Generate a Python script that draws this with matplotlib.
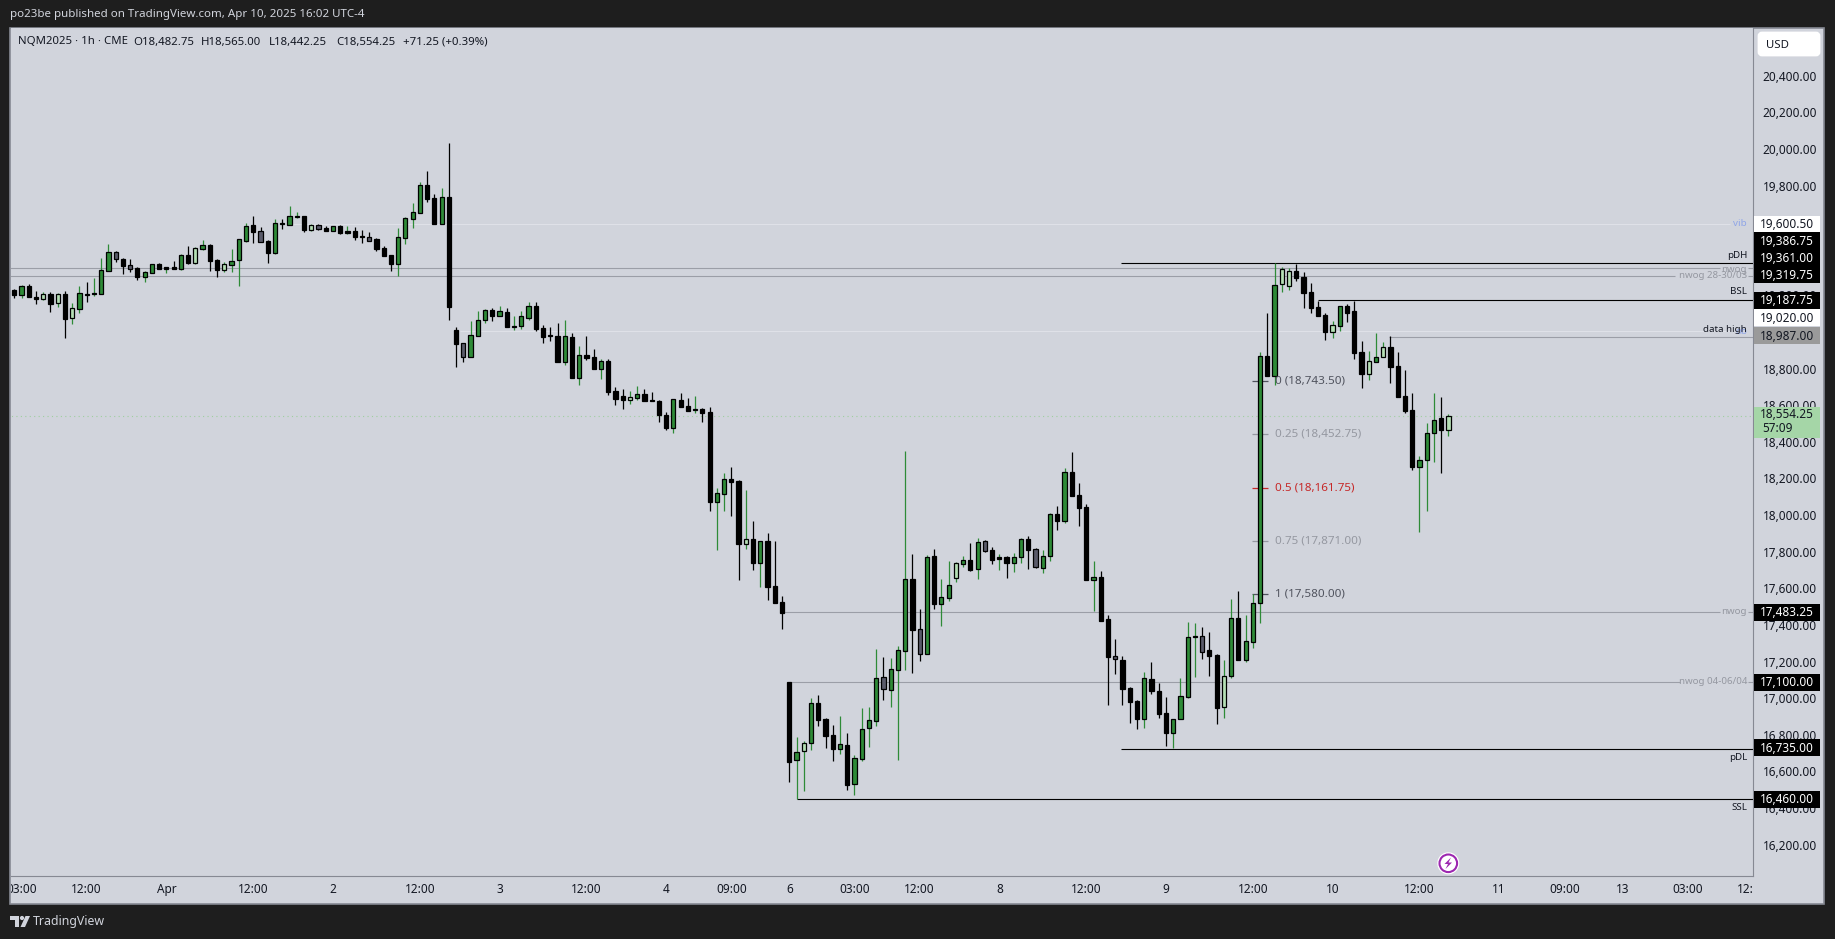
import matplotlib
matplotlib.use('Agg')
import matplotlib.pyplot as plt
from matplotlib.patches import Rectangle, Circle, Polygon, FancyBboxPatch
from matplotlib.transforms import ScaledTranslation

plt.rcParams['font.family'] = ['Noto Sans', 'DejaVu Sans']

# k black, g green, l light green, d grey, m black body with green wick
kinds = list(
    "kgkklklklg" "kmggdkdkgg" "kmkgklgkkl" "gggkdkgkgm" "kldkgkmkkd"
    "kkkggggkkg" "kkdgggkgkm" "ggkkkkgkgk" "kgkkklgkkk" "kgkkmkkggk"
    "klkgkkkkgl" "gkkkgkgggg" "dgggkdgkgg" "lgkgdkmkgg" "kdggkgkkkg"
    "kkdkkkgkkk" "gggmdkklgk" "gggkgllkkk" "kklgkkklgl" "kkkkgggkl"
)

highs = [
    19246, 19270, 19275, 19235, 19230, 19230, 19226, 19235, 19171, 19264,
    19284, 19308, 19417, 19493, 19455, 19417, 19412, 19366, 19344, 19382,
    19388, 19368, 19401, 19437, 19483, 19477, 19515, 19492, 19412, 19395,
    19466, 19519, 19608, 19646, 19586, 19515, 19630, 19630, 19701, 19668,
    19646, 19603, 19603, 19592, 19590, 19597, 19592, 19586, 19570, 19559,
    19526, 19481, 19433, 19581, 19639, 19716, 19832, 19892, 19765, 19799,
    20045, 19040, 18951, 19073, 19127, 19137, 19142, 19155, 19142, 19100,
    19126, 19177, 19177, 19049, 19040, 19062, 19078, 19007, 18936, 18991,
    18920, 18865, 18865, 18712, 18701, 18690, 18718, 18701, 18685, 18639,
    18576, 18645, 18679, 18652, 18663, 18598, 18603, 18159, 18243, 18275,
    18204, 18150, 17980, 17869, 17915, 17871, 17571, 17099, 16799, 16779,
    17014, 17028, 16902, 16866, 16915, 16821, 16700, 16957, 16963, 17279,
    17236, 17230, 17298, 18363, 17798, 17498, 17793, 17826, 17662, 17760,
    17756, 17787, 17858, 17886, 17875, 17836, 17798, 17787, 17805, 17886,
    17897, 17831, 17820, 18022, 18062, 18270, 18357, 18188, 18073, 17762,
    17707, 17465, 17336, 17243, 17074, 17003, 17156, 17210, 17095, 17019,
    16897, 17123, 17429, 17423, 17401, 17374, 17254, 17221, 17554, 17598,
    17467, 17580, 18902, 19115, 19388, 19368, 19361, 19384, 19339, 19280,
    19184, 19117, 19073, 19155, 19164, 19184, 18964, 18909, 19007, 18958,
    18991, 18904, 18805, 18678, 18335, 18516, 18678, 18658, 18565,
]
body_tops = [
    19240, 19262, 19264, 19202, 19219, 19220, 19219, 19220, 19142, 19224,
    19220, 19224, 19350, 19448, 19448, 19410, 19377, 19361, 19339, 19382,
    19382, 19368, 19366, 19432, 19432, 19470, 19486, 19486, 19404, 19382,
    19399, 19519, 19590, 19595, 19563, 19508, 19606, 19606, 19645, 19645,
    19645, 19595, 19595, 19581, 19590, 19592, 19563, 19565, 19537, 19530,
    19521, 19472, 19433, 19530, 19634, 19666, 19814, 19814, 19743, 19748,
    19748, 19022, 18951, 18995, 19076, 19131, 19131, 19126, 19120, 19044,
    19098, 19153, 19153, 19033, 18995, 18989, 18989, 18984, 18885, 18885,
    18874, 18852, 18852, 18689, 18661, 18656, 18672, 18672, 18641, 18634,
    18559, 18645, 18639, 18607, 18592, 18590, 18574, 18131, 18208, 18208,
    18197, 17880, 17880, 17869, 17869, 17624, 17536, 17099, 16720, 16770,
    16984, 16984, 16897, 16810, 16760, 16755, 16684, 16842, 16892, 17121,
    17126, 17170, 17274, 17662, 17662, 17389, 17782, 17787, 17563, 17629,
    17749, 17765, 17765, 17867, 17869, 17820, 17784, 17782, 17785, 17880,
    17880, 17826, 17787, 18017, 18017, 18246, 18246, 18120, 18055, 17673,
    17673, 17443, 17241, 17219, 17066, 16997, 17121, 17116, 17050, 16930,
    16897, 17023, 17345, 17350, 17350, 17274, 17247, 17132, 17449, 17449,
    17323, 17531, 18880, 18880, 19268, 19355, 19344, 19344, 19311, 19230,
    19148, 19104, 19049, 19153, 19153, 19126, 18902, 18853, 18874, 18929,
    18929, 18825, 18661, 18585, 18312, 18459, 18534, 18541, 18556,
]
body_bottoms = [
    19215, 19217, 19206, 19195, 19195, 19168, 19173, 19086, 19091, 19140,
    19217, 19222, 19222, 19348, 19413, 19375, 19359, 19315, 19315, 19337,
    19359, 19359, 19359, 19359, 19390, 19391, 19468, 19402, 19353, 19353,
    19381, 19408, 19512, 19561, 19506, 19446, 19446, 19605, 19599, 19641,
    19572, 19572, 19577, 19565, 19566, 19555, 19554, 19532, 19534, 19512,
    19466, 19428, 19384, 19386, 19528, 19632, 19665, 19741, 19605, 19605,
    19151, 18949, 18878, 18878, 18993, 19080, 19102, 19102, 19042, 19040,
    19047, 19091, 19031, 18987, 18993, 18851, 18851, 18763, 18763, 18873,
    18812, 18812, 18687, 18649, 18643, 18643, 18654, 18638, 18638, 18561,
    18486, 18486, 18605, 18583, 18588, 18572, 18086, 18086, 18126, 18195,
    17857, 17853, 17753, 17753, 17622, 17534, 17480, 16666, 16673, 16722,
    16766, 16895, 16808, 16737, 16737, 16540, 16542, 16682, 16848, 16890,
    17064, 17059, 17168, 17272, 17387, 17252, 17252, 17529, 17529, 17558,
    17667, 17747, 17714, 17716, 17818, 17769, 17775, 17753, 17749, 17782,
    17824, 17727, 17725, 17787, 17982, 17982, 18119, 18053, 17660, 17660,
    17436, 17239, 17228, 17064, 16994, 16901, 16897, 17054, 16928, 16824,
    16821, 16897, 17021, 17345, 17267, 17245, 16957, 16963, 17132, 17223,
    17223, 17321, 17531, 18774, 18774, 19273, 19266, 19310, 19228, 19146,
    19102, 19015, 19015, 19047, 19118, 18900, 18785, 18785, 18851, 18874,
    18823, 18660, 18581, 18275, 18277, 18312, 18459, 18479, 18479,
]
lows = [
    19200, 19200, 19206, 19168, 19188, 19124, 19151, 18982, 19057, 19118,
    19178, 19211, 19222, 19348, 19397, 19331, 19342, 19299, 19288, 19337,
    19359, 19335, 19359, 19353, 19384, 19384, 19461, 19348, 19315, 19340,
    19340, 19266, 19504, 19499, 19506, 19390, 19439, 19575, 19599, 19634,
    19559, 19565, 19570, 19565, 19566, 19548, 19548, 19515, 19499, 19512,
    19455, 19428, 19346, 19319, 19493, 19581, 19665, 19723, 19605, 19605,
    19078, 18822, 18849, 18878, 18993, 19062, 19073, 19102, 19042, 19024,
    19029, 19078, 19018, 18955, 18964, 18851, 18832, 18763, 18723, 18860,
    18812, 18756, 18669, 18614, 18592, 18619, 18641, 18638, 18638, 18521,
    18477, 18461, 18605, 18583, 18570, 18521, 18035, 17822, 18035, 18008,
    17658, 17827, 17713, 17620, 17549, 17534, 17390, 16557, 16460, 16507,
    16730, 16861, 16742, 16669, 16708, 16511, 16484, 16671, 16746, 16861,
    17003, 16964, 16675, 17166, 17150, 17216, 17252, 17500, 17407, 17543,
    17647, 17729, 17707, 17663, 17811, 17745, 17713, 17669, 17702, 17751,
    17718, 17722, 17696, 17762, 17931, 17969, 18119, 17953, 17660, 17489,
    17436, 16975, 17145, 16975, 16877, 16844, 16850, 17035, 16904, 16751,
    16739, 16897, 17014, 17128, 17227, 17134, 16871, 16904, 17123, 17223,
    17210, 17287, 17423, 18774, 18723, 19233, 19242, 19291, 19146, 19118,
    19102, 18971, 18982, 19020, 19067, 18867, 18709, 18752, 18851, 18874,
    18736, 18660, 18570, 18259, 17920, 18035, 18303, 18244, 18445,
]

price_ticks = list(range(16200, 20600, 200))

time_bars = [1, 10, 21, 33, 44, 56, 67, 79, 90, 99, 107, 116, 125, 136, 148,
             159, 171, 182, 194, 205, 214, 222, 231, 240]
time_labels = ['03:00', '12:00', 'Apr', '12:00', '2', '12:00', '3', '12:00',
               '4', '09:00', '6', '03:00', '12:00', '8', '12:00', '9', '12:00',
               '10', '12:00', '11', '09:00', '13', '03:00', '12:00']

fib_prices = [18743.5, 18452.75, 18161.75, 17871.0, 17580.0]
fib_labels = ['0 (18,743.50)', '0.25 (18,452.75)', '0.5 (18,161.75)',
              '0.75 (17,871.00)', '1 (17,580.00)']
fib_colors = ['#50535e', '#9598a1', '#c62828', '#9598a1', '#50535e']

BG = '#1e1e1e'
PANEL = '#d1d4dc'
EDGE = '#868993'
GREEN = '#2e8b37'
LINE = '#9b9ea7'
FAINT = '#dfe1e8'
body_colors = {'k': 'black', 'm': 'black', 'g': GREEN, 'l': '#b5e0b5', 'd': '#5a5b6a'}
wick_colors = {'k': 'black', 'd': 'black', 'm': GREEN, 'g': GREEN, 'l': GREEN}

W, H = 1835, 939
L, R, T, B = 11, 1753, 28, 876

fig = plt.figure(figsize=(W / 100, H / 100), dpi=100, facecolor=BG)

back = fig.add_axes([0, 0, 1, 1], zorder=-1)
back.set_xlim(0, W)
back.set_ylim(H, 0)
back.axis('off')
back.add_patch(Rectangle((10, 27.5), 1814, 876, fc=PANEL, ec=EDGE, lw=1.2))

ax = fig.add_axes([L / W, (H - B) / H, (R - L) / W, (B - T) / H], zorder=1)
ax.set_facecolor(PANEL)
ax.set_xlim(-0.45, 240.05)
ax.set_ylim(16041, 20673)
for s in ax.spines.values():
    s.set_visible(False)
ax.spines['right'].set_visible(True)
ax.spines['right'].set_color(EDGE)
ax.spines['bottom'].set_visible(True)
ax.spines['bottom'].set_color(EDGE)
ax.set_xticks([])
ax.yaxis.tick_right()
ax.set_yticks(price_ticks)
ax.set_yticklabels([f'{p:,.2f}' for p in price_ticks], fontsize=8.5, color='#131722')
ax.tick_params(axis='y', length=0, pad=7)
lift = ScaledTranslation(0, 2.3 / 100, fig.dpi_scale_trans)
for t in ax.get_yticklabels():
    t.set_transform(t.get_transform() + lift)

# level lines, drawn first so the candles sit on top
ax.plot([-1, 241], [18554.25] * 2, color='#9fcf9f', lw=0.8, ls=(0, (1, 3)), zorder=1)
ax.hlines(19600.5, 38, 236.9, color=FAINT, lw=0.8, zorder=1)
ax.hlines(19020.0, 61.5, 236.9, color=FAINT, lw=0.8, zorder=1)
ax.hlines(19361.0, -1, 235.5, color=LINE, lw=0.8, zorder=1)
ax.hlines(19319.75, -1, 229.3, color=LINE, lw=0.8, zorder=1)
ax.hlines(18987.0, 189.8, 241, color=LINE, lw=0.8, zorder=1)
ax.hlines(17483.25, 106, 235.5, color=LINE, lw=0.8, zorder=1)
ax.hlines(17100.0, 107, 230, color=LINE, lw=0.8, zorder=1)
ax.hlines(19386.75, 152.8, 241, color='black', lw=0.8, zorder=1)
ax.hlines(19187.75, 180, 241, color='black', lw=0.8, zorder=1)
ax.hlines(16735.0, 152.8, 241, color='black', lw=0.8, zorder=1)
ax.hlines(16460.0, 108, 241, color='black', lw=0.8, zorder=1)
for p in [19361.0, 19319.75, 17483.25, 17100.0]:
    ax.hlines(p, 239.3, 241, color=LINE, lw=0.8, zorder=1)

bars = list(range(len(kinds)))
ax.vlines(bars, lows, highs, colors=[wick_colors[k] for k in kinds], lw=0.9, zorder=2)
ax.bar(bars, [t - b for t, b in zip(body_tops, body_bottoms)], bottom=body_bottoms,
       width=0.58, color=[body_colors[k] for k in kinds], edgecolor='black', lw=0.9, zorder=3)

# fib ticks and labels
for p, lbl, c in zip(fib_prices, fib_labels, fib_colors):
    ax.hlines(p, 170.9, 173.1, color=c, lw=0.9, zorder=1)
    ax.text(174.1, p, lbl, color=c, fontsize=8.4, va='center', ha='left', zorder=4)

time_ax = fig.add_axes([L / W, (H - 903) / H, (R - L) / W, (903 - B) / H], zorder=1)
time_ax.set_xlim(ax.get_xlim())
time_ax.set_ylim(0, 1)
time_ax.axis('off')
for bar, lbl in zip(time_bars, time_labels):
    time_ax.text(bar, 0.5, lbl, ha='center', va='center', fontsize=8.5, color='#131722',
                 fontweight='bold' if lbl == 'Apr' else 'normal', clip_on=True)

# everything in pixel coordinates from here
top = fig.add_axes([0, 0, 1, 1], zorder=2)
top.set_xlim(0, W)
top.set_ylim(H, 0)
top.axis('off')
top.patch.set_visible(False)

top.text(10, 15, 'po23be published on TradingView.com, Apr 10, 2025 16:02 UTC-4',
         color='#d1d4dc', fontsize=8.3, va='center')
top.text(18, 42, 'NQM2025 · 1h · CME', color='#131722', fontsize=8.2, va='center')
top.text(133, 42, 'O18,482.75', color='#131722', fontsize=8.2, va='center')
top.text(201, 42, 'H18,565.00', color='#131722', fontsize=8.2, va='center')
top.text(269, 42, 'L18,442.25', color='#131722', fontsize=8.2, va='center')
top.text(336, 42, 'C18,554.25', color='#131722', fontsize=8.2, va='center')
top.text(403, 42, '+71.25 (+0.39%)', color='#131722', fontsize=8.2, va='center')

top.add_patch(FancyBboxPatch((1759, 33), 60, 22, boxstyle='round,pad=0,rounding_size=3',
                             fc='white', ec='white', lw=2))
top.text(1766, 45, 'USD', color='#131722', fontsize=8.2, va='center')

# price tags on the axis
tag_y = [224, 240.7, 257.7, 274.7, 300, 317.5, 335.5, 612, 682.3, 747.5, 799]
tag_text = ['19,600.50', '19,386.75', '19,361.00', '19,319.75', '19,187.75', '19,020.00',
            '18,987.00', '17,483.25', '17,100.00', '16,735.00', '16,460.00']
tag_back = ['white', 'black', 'black', 'black', 'black', 'white', '#9a9a9a',
            'black', 'black', 'black', 'black']
tag_fore = ['#131722', 'white', 'white', 'white', 'white', '#131722', '#131722',
            'white', 'white', 'white', 'white']
for y, s, b, f in zip(tag_y, tag_text, tag_back, tag_fore):
    top.add_patch(Rectangle((1754, y - 8.5), 66, 17, fc=b, ec='none'))
    top.text(1787, y + 0.5, s, color=f, fontsize=8.5, ha='center', va='center',
             fontweight='bold' if f == 'white' else 'normal')
top.add_patch(Rectangle((1754, 407), 66, 31, fc='#a5d6a7', ec='none'))
top.text(1787, 415, '18,554.25', color='#131722', fontsize=8.5, ha='center', va='center')
top.text(1762, 429, '57:09', color='#131722', fontsize=8.5, ha='left', va='center')

# line labels
label_y = [224, 255, 269, 276, 292, 331, 329, 612, 682, 757, 807]
label_text = ['vib', 'pDH', 'nwog', 'nwog 28-30/03', 'BSL', 'ob', 'data high', 'nwog',
              'nwog 04-06/04', 'pDL', 'SSL']
label_colors = ['#8fa5e8', '#131722', '#9598a1', '#9598a1', '#131722', '#8fa5e8', '#131722',
                '#9598a1', '#9598a1', '#131722', '#131722']
for y, s, c in zip(label_y, label_text, label_colors):
    top.text(1747, y, s, color=c, fontsize=7.0, ha='right', va='center')

# lightning badge
top.add_patch(Circle((1448.3, 863.3), 11, fc='white', ec='none'))
top.add_patch(Circle((1448.3, 863.3), 8.8, fc='none', ec='#9c27b0', lw=1.5))
top.add_patch(Polygon([(1451, 857.5), (1444.5, 864), (1448, 864), (1445.5, 869),
                       (1452, 862.5), (1448.5, 862.5)], fc='#9c27b0', ec='none'))

# TradingView logo
top.add_patch(Polygon([(10, 916), (19, 916), (19, 927), (15, 927), (15, 920), (10, 920)],
                      fc='#d1d4dc', ec='none'))
top.add_patch(Circle((22, 918), 2.1, fc='#d1d4dc', ec='none'))
top.add_patch(Polygon([(25.5, 916), (30, 916), (25, 927), (20.5, 927)], fc='#d1d4dc', ec='none'))
top.text(33, 921.5, 'TradingView', color='#d1d4dc', fontsize=8.9, va='center')

fig.savefig('out.png', dpi=100, facecolor=BG)
